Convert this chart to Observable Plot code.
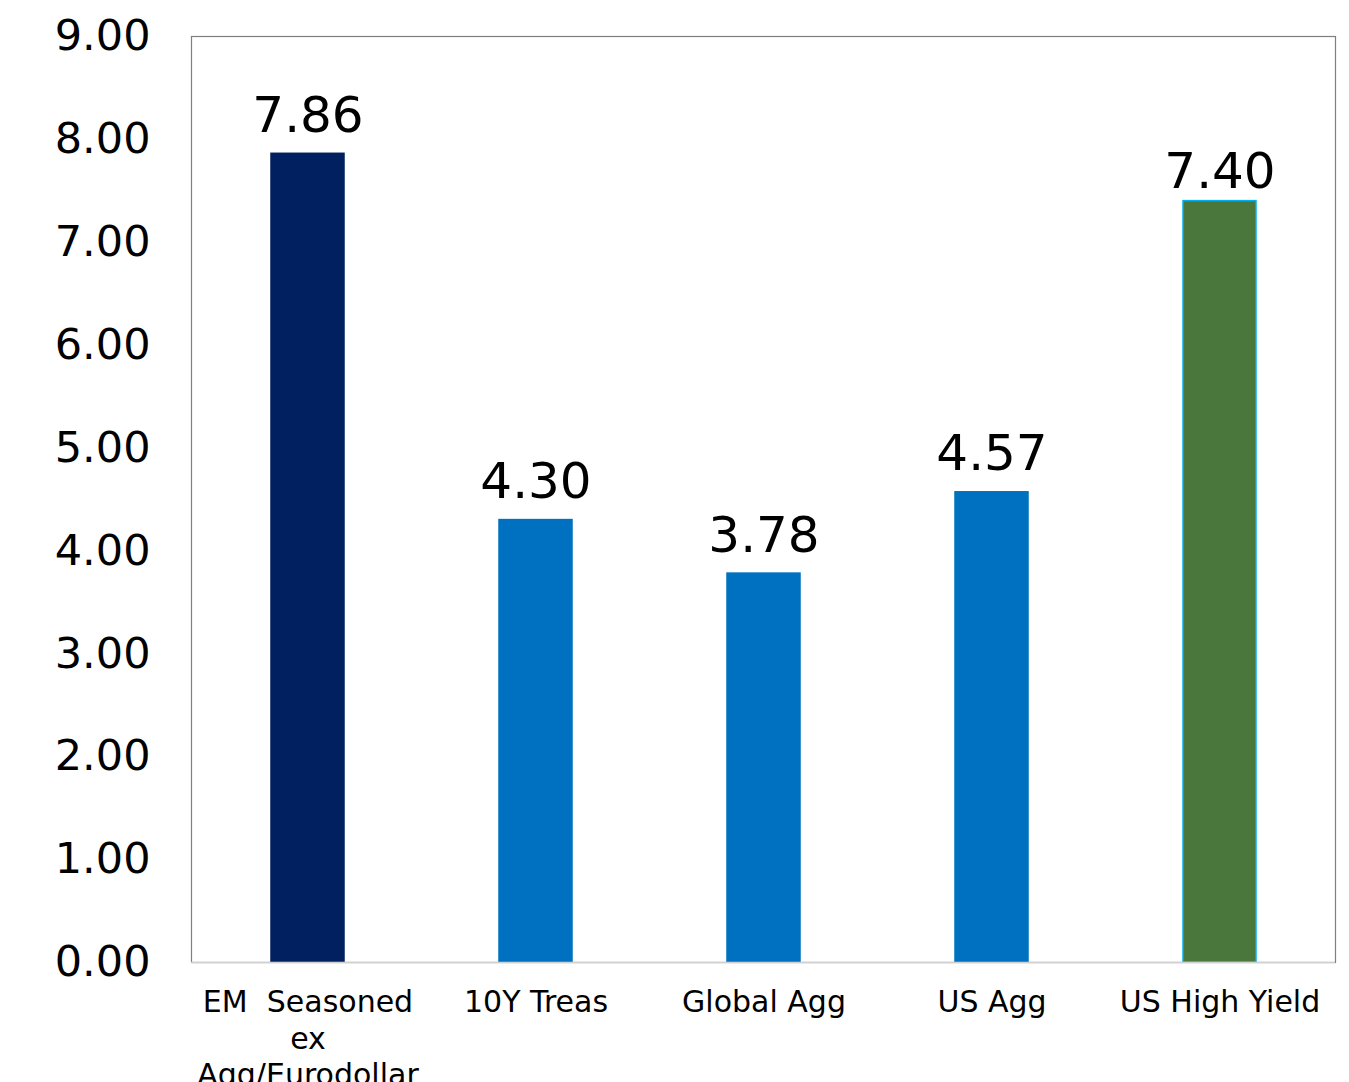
<!DOCTYPE html>
<html>
<head>
<meta charset="utf-8">
<script src="https://cdn.jsdelivr.net/npm/d3@7"></script>
<script src="https://cdn.jsdelivr.net/npm/@observablehq/plot@0.6"></script>
<style>
  html, body { margin: 0; padding: 0; background: #fff; }
  svg { font-family: "DejaVu Sans", Verdana, sans-serif; }
</style>
</head>
<body>
<div id="chart"></div>
<script>
const categories = ["EM  Seasoned\nex\nAgg/Eurodollar", "10Y Treas", "Global Agg", "US Agg", "US High Yield"];
const values = [7.86, 4.30, 3.78, 4.57, 7.40];
const colors = ["#002060", "#0070C0", "#0070C0", "#0070C0", "#4A773C"];
const strokes = ["#002060", "#0070C0", "#0070C0", "#0070C0", "#00B0F0"];
const yTicks = [0, 1, 2, 3, 4, 5, 6, 7, 8, 9];

const data = categories.map((c, i) => ({cat: c, value: values[i], fill: colors[i], stroke: strokes[i], last: i === categories.length - 1}));

const chart = Plot.plot({
  width: 1349,
  height: 1082,
  marginLeft: 191,
  marginRight: 14,
  marginTop: 36,
  marginBottom: 120,
  style: {fontFamily: "'DejaVu Sans', Verdana, sans-serif", background: "#fff"},
  x: {domain: categories, paddingInner: 0.68, paddingOuter: 0.34, align: 0.5},
  y: {domain: [0, 9]},
  marks: [
    Plot.barY(data, {x: "cat", y: "value", fill: d => d.fill, stroke: d => d.stroke, strokeWidth: 1.5}),
    Plot.text(data, {filter: d => !d.last, x: "cat", y: "value", text: d => d.value.toFixed(2), lineAnchor: "bottom", dy: -22, fontSize: 50, fill: "#000"}),
    Plot.text(data, {filter: d => d.last, x: "cat", y: "value", text: d => d.value.toFixed(2), lineAnchor: "bottom", dy: -13, fontSize: 50, fill: "#000"}),
    Plot.frame({stroke: "#7f7f7f", strokeWidth: 1.2}),
    Plot.ruleY([0], {stroke: "#d0d0d0", strokeWidth: 1.5}),
    Plot.axisY({ticks: yTicks, tickFormat: d => d.toFixed(2), tickSize: 0, tickPadding: 41, fontSize: 43, label: null, fill: "#000"}),
    Plot.axisX({tickSize: 0, tickPadding: 23, fontSize: 30, lineHeight: 1.23, label: null, fill: "#000"})
  ]
});
document.getElementById("chart").appendChild(chart);
</script>
</body>
</html>
